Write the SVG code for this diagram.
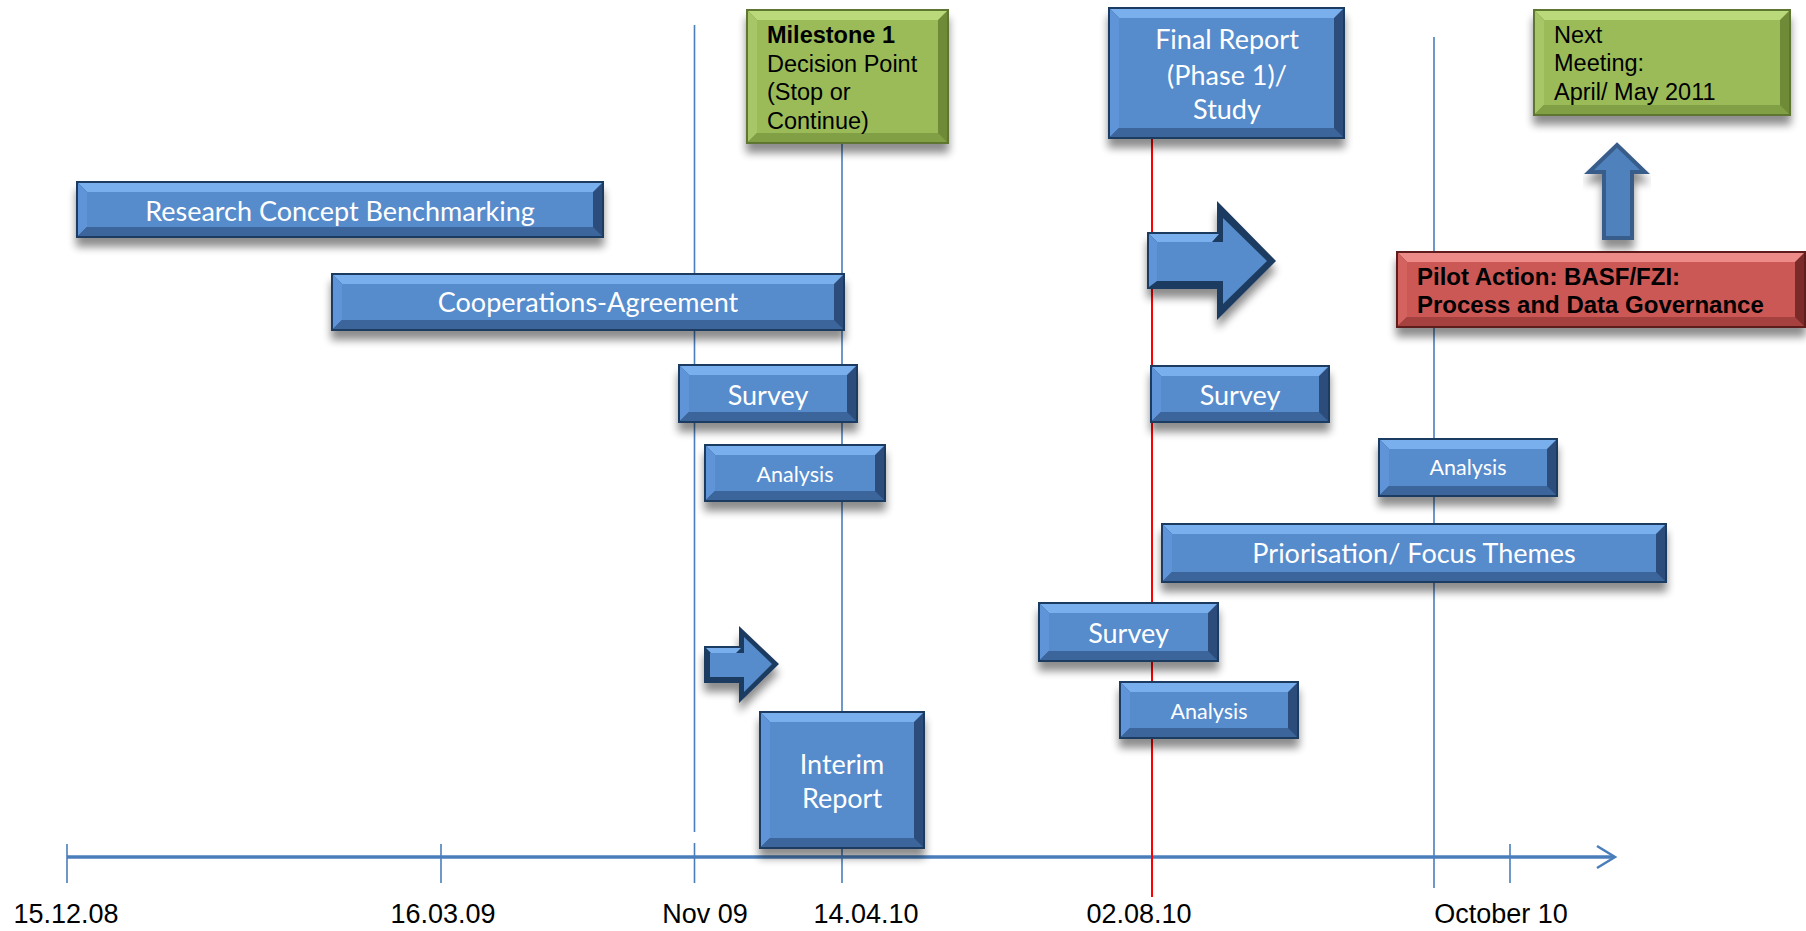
<svg xmlns="http://www.w3.org/2000/svg" width="1806" height="931" viewBox="0 0 1806 931">
<style>
.ln{stroke:#4A7EBB;stroke-width:1.6;fill:none}
.red{stroke:#FF0000;stroke-width:2;fill:none}
.ax{stroke:#4A7EBB;stroke-width:3.5;fill:none}
.chev{stroke:#4A7EBB;stroke-width:2.5;fill:none}
.bd{filter:url(#sh)}
.b .bd{fill:#1F3A60}.b .dk{fill:#2C4D7C}.b .tp{fill:#7AAFEE}.b .lf{fill:#5F95D8}.b .bt{fill:#3B659B}.b .ct{fill:#568BCC}
.g .bd{fill:#5F7530}.g .dk{fill:#6F8B38}.g .tp{fill:#B9D97A}.g .lf{fill:#A6C667}.g .bt{fill:#819F44}.g .ct{fill:#9BBB59}
.r .bd{fill:#5E1D1C}.r .dk{fill:#7A2A28}.r .tp{fill:#EC8B88}.r .lf{fill:#D4625F}.r .bt{fill:#A5413E}.r .ct{fill:#CC5855}
.bt1{font-family:"Lato","Open Sans",sans-serif;font-size:27px;fill:#fff;text-anchor:middle}
.bt2{font-family:"Lato","Open Sans",sans-serif;font-size:21.5px;fill:#fff;text-anchor:middle}
.at{font-family:"Liberation Sans",Arial,sans-serif;font-size:23.5px;fill:#000}
.atb{font-family:"Liberation Sans",Arial,sans-serif;font-size:24px;font-weight:bold;fill:#000}
.lab{font-family:"Liberation Sans",Arial,sans-serif;font-size:27px;fill:#000;text-anchor:middle}
</style>
<defs>
<filter id="sh" x="-10%" y="-20%" width="120%" height="170%">
<feGaussianBlur in="SourceAlpha" stdDeviation="4"/>
<feOffset dy="9"/>
<feComponentTransfer><feFuncA type="linear" slope="0.45"/></feComponentTransfer>
<feMerge><feMergeNode/><feMergeNode in="SourceGraphic"/></feMerge>
</filter>
</defs>
<rect width="1806" height="931" fill="#fff"/>
<g id="connectors">
<line class="ax" x1="67" y1="857" x2="1614" y2="857"/>
<polyline class="chev" points="1597,846 1615,857 1597,868"/>
<line class="ln" x1="67" y1="844" x2="67" y2="883"/>
<line class="ln" x1="441" y1="844" x2="441" y2="883"/>
<line class="ln" x1="1510" y1="844" x2="1510" y2="883"/>
<line class="ln" x1="694.5" y1="25" x2="694.5" y2="832"/>
<line class="ln" x1="694.5" y1="843" x2="694.5" y2="883"/>
<line class="ln" x1="842" y1="144" x2="842" y2="883"/>
<line class="ln" x1="1434" y1="37" x2="1434" y2="888"/>
<line class="red" x1="1152" y1="139" x2="1152" y2="897"/>
</g>
<g id="research" class="b">
<rect class="bd" x="76" y="181" width="528" height="57"/><rect class="dk" x="78" y="183" width="524" height="53"/>
<polygon class="tp" points="78,183 602,183 593,192 87,192"/><polygon class="lf" points="78,183 87,192 87,227 78,236"/><polygon class="bt" points="78,236 602,236 593,227 87,227"/>
<rect class="ct" x="87" y="192" width="506" height="35"/>
<text class="bt1" x="340" y="220.5">Research Concept Benchmarking</text>
</g>
<g id="cooperations" class="b">
<rect class="bd" x="331" y="273" width="514" height="58"/><rect class="dk" x="333" y="275" width="510" height="54"/>
<polygon class="tp" points="333,275 843,275 834,284 342,284"/><polygon class="lf" points="333,275 342,284 342,320 333,329"/><polygon class="bt" points="333,329 843,329 834,320 342,320"/>
<rect class="ct" x="342" y="284" width="492" height="36"/>
<text class="bt1" x="588" y="312">Cooperations-Agreement</text>
</g>
<g id="milestone" class="g">
<rect class="bd" x="746" y="9" width="203" height="135"/><rect class="dk" x="748" y="11" width="199" height="131"/>
<polygon class="tp" points="748,11 947,11 938,20 757,20"/><polygon class="lf" points="748,11 757,20 757,133 748,142"/><polygon class="bt" points="748,142 947,142 938,133 757,133"/>
<rect class="ct" x="757" y="20" width="181" height="113"/>
<text class="at" x="767" y="43"><tspan font-weight="bold">Milestone 1</tspan><tspan x="767" y="72">Decision Point</tspan><tspan x="767" y="100">(Stop or</tspan><tspan x="767" y="128.5">Continue)</tspan></text>
</g>
<g id="finalreport" class="b">
<rect class="bd" x="1108" y="7" width="237" height="132"/><rect class="dk" x="1110" y="9" width="233" height="128"/>
<polygon class="tp" points="1110,9 1343,9 1334,18 1119,18"/><polygon class="lf" points="1110,9 1119,18 1119,128 1110,137"/><polygon class="bt" points="1110,137 1343,137 1334,128 1119,128"/>
<rect class="ct" x="1119" y="18" width="215" height="110"/>
<text class="bt1" x="1227" y="49">Final Report<tspan x="1227" y="84.5">(Phase 1)/</tspan><tspan x="1227" y="119">Study</tspan></text>
</g>
<g id="nextmeeting" class="g">
<rect class="bd" x="1533" y="9" width="258" height="107"/><rect class="dk" x="1535" y="11" width="254" height="103"/>
<polygon class="tp" points="1535,11 1789,11 1780,20 1544,20"/><polygon class="lf" points="1535,11 1544,20 1544,105 1535,114"/><polygon class="bt" points="1535,114 1789,114 1780,105 1544,105"/>
<rect class="ct" x="1544" y="20" width="236" height="85"/>
<text class="at" x="1554" y="43">Next<tspan x="1554" y="71">Meeting:</tspan><tspan x="1554" y="100">April/ May 2011</tspan></text>
</g>
<g id="uparrow">
<polygon class="bd" points="1617,145 1645,172 1632,172 1632,238 1604,238 1604,172 1589,172" fill="#4F81BD" stroke="#385D8A" stroke-width="4"/>
</g>
<g id="pilot" class="r">
<rect class="bd" x="1396" y="251" width="410" height="77"/><rect class="dk" x="1398" y="253" width="406" height="73"/>
<polygon class="tp" points="1398,253 1804,253 1795,262 1407,262"/><polygon class="lf" points="1398,253 1407,262 1407,317 1398,326"/><polygon class="bt" points="1398,326 1804,326 1795,317 1407,317"/>
<rect class="ct" x="1407" y="262" width="388" height="55"/>
<text class="atb" x="1417" y="285">Pilot Action: BASF/FZI:<tspan x="1417" y="313">Process and Data Governance</tspan></text>
</g>
<g id="bigarrow" class="b">
<polygon class="bd" points="1147,232 1217,232 1217,201 1276,261 1217,320 1217,289 1147,289"/>
<polygon class="tp" points="1149,234 1219,234 1212,242 1157,242"/>
<polygon class="lf" points="1149,234 1157,242 1157,281 1149,287"/>
<polygon class="ct" points="1157,242 1223,242 1223,218 1267,261 1223,304 1223,281 1157,281"/>
</g>
<g id="survey1" class="b">
<rect class="bd" x="678" y="364" width="180" height="59"/><rect class="dk" x="680" y="366" width="176" height="55"/>
<polygon class="tp" points="680,366 856,366 847,375 689,375"/><polygon class="lf" points="680,366 689,375 689,412 680,421"/><polygon class="bt" points="680,421 856,421 847,412 689,412"/>
<rect class="ct" x="689" y="375" width="158" height="37"/>
<text class="bt1" x="768" y="405">Survey</text>
</g>
<g id="analysis1" class="b">
<rect class="bd" x="704" y="444" width="182" height="58"/><rect class="dk" x="706" y="446" width="178" height="54"/>
<polygon class="tp" points="706,446 884,446 875,455 715,455"/><polygon class="lf" points="706,446 715,455 715,491 706,500"/><polygon class="bt" points="706,500 884,500 875,491 715,491"/>
<rect class="ct" x="715" y="455" width="160" height="36"/>
<text class="bt2" x="795" y="482">Analysis</text>
</g>
<g id="survey2" class="b">
<rect class="bd" x="1150" y="365" width="180" height="58"/><rect class="dk" x="1152" y="367" width="176" height="54"/>
<polygon class="tp" points="1152,367 1328,367 1319,376 1161,376"/><polygon class="lf" points="1152,367 1161,376 1161,412 1152,421"/><polygon class="bt" points="1152,421 1328,421 1319,412 1161,412"/>
<rect class="ct" x="1161" y="376" width="158" height="36"/>
<text class="bt1" x="1240" y="405">Survey</text>
</g>
<g id="analysis2" class="b">
<rect class="bd" x="1378" y="438" width="180" height="59"/><rect class="dk" x="1380" y="440" width="176" height="55"/>
<polygon class="tp" points="1380,440 1556,440 1547,449 1389,449"/><polygon class="lf" points="1380,440 1389,449 1389,486 1380,495"/><polygon class="bt" points="1380,495 1556,495 1547,486 1389,486"/>
<rect class="ct" x="1389" y="449" width="158" height="37"/>
<text class="bt2" x="1468" y="475">Analysis</text>
</g>
<g id="priorisation" class="b">
<rect class="bd" x="1161" y="523" width="506" height="60"/><rect class="dk" x="1163" y="525" width="502" height="56"/>
<polygon class="tp" points="1163,525 1665,525 1656,534 1172,534"/><polygon class="lf" points="1163,525 1172,534 1172,572 1163,581"/><polygon class="bt" points="1163,581 1665,581 1656,572 1172,572"/>
<rect class="ct" x="1172" y="534" width="484" height="38"/>
<text class="bt1" x="1414" y="563">Priorisation/ Focus Themes</text>
</g>
<g id="survey3" class="b">
<rect class="bd" x="1038" y="602" width="181" height="60"/><rect class="dk" x="1040" y="604" width="177" height="56"/>
<polygon class="tp" points="1040,604 1217,604 1208,613 1049,613"/><polygon class="lf" points="1040,604 1049,613 1049,651 1040,660"/><polygon class="bt" points="1040,660 1217,660 1208,651 1049,651"/>
<rect class="ct" x="1049" y="613" width="159" height="38"/>
<text class="bt1" x="1128.5" y="643">Survey</text>
</g>
<g id="analysis3" class="b">
<rect class="bd" x="1119" y="681" width="180" height="58"/><rect class="dk" x="1121" y="683" width="176" height="54"/>
<polygon class="tp" points="1121,683 1297,683 1288,692 1130,692"/><polygon class="lf" points="1121,683 1130,692 1130,728 1121,737"/><polygon class="bt" points="1121,737 1297,737 1288,728 1130,728"/>
<rect class="ct" x="1130" y="692" width="158" height="36"/>
<text class="bt2" x="1209" y="719">Analysis</text>
</g>
<g id="smallarrow" class="b">
<polygon class="bd" points="704,646 739,646 739,626 779,664 739,703 739,683 704,683"/>
<polygon class="tp" points="706,648 741,648 736,653 711,653"/>
<polygon class="ct" points="710,653 744,653 744,637 772,664 744,692 744,677 710,677"/>
</g>
<g id="interim" class="b">
<rect class="bd" x="759" y="711" width="166" height="138"/><rect class="dk" x="761" y="713" width="162" height="134"/>
<polygon class="tp" points="761,713 923,713 914,722 770,722"/><polygon class="lf" points="761,713 770,722 770,838 761,847"/><polygon class="bt" points="761,847 923,847 914,838 770,838"/>
<rect class="ct" x="770" y="722" width="144" height="116"/>
<text class="bt1" x="842" y="774">Interim<tspan x="842" y="808">Report</tspan></text>
</g>
<g id="axis-labels">
<text class="lab" x="66" y="923">15.12.08</text>
<text class="lab" x="443" y="923">16.03.09</text>
<text class="lab" x="705" y="923">Nov 09</text>
<text class="lab" x="866" y="923">14.04.10</text>
<text class="lab" x="1139" y="923">02.08.10</text>
<text class="lab" x="1501" y="923">October 10</text>
</g>
</svg>
